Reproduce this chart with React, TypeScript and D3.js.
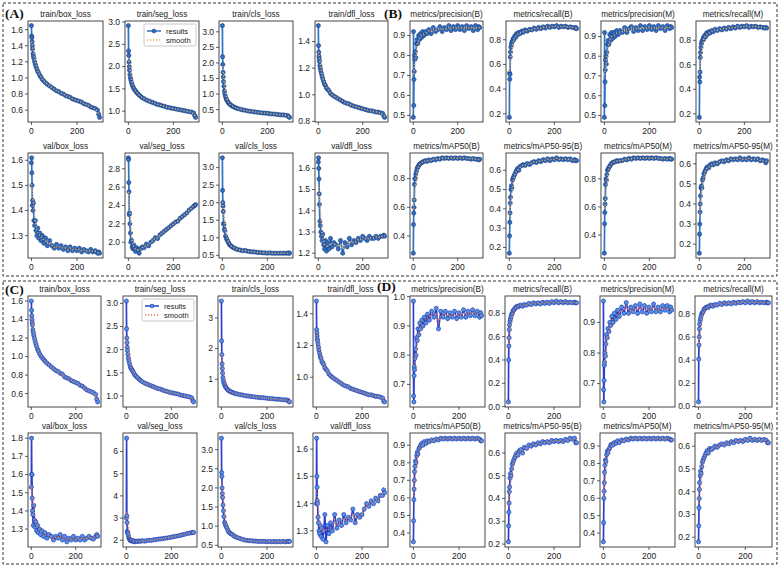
import React from 'react'
import * as d3 from 'd3'

const EPOCHS = [0, 1, 2, 3, 4, 5, 7, 9, 11, 14, 17, 20, 24, 28, 32, 37, 42, 48, 55, 62, 70, 80, 90, 100, 110, 120, 130, 140, 150, 160, 170, 180, 190, 200, 210, 220, 230, 240, 250, 260, 270, 280, 290, 295, 299]

// (A) training / validation losses
const A_TRAIN_BOX = [1.65, 1.52, 1.5, 1.45, 1.4, 1.36, 1.3, 1.27, 1.24, 1.2, 1.17, 1.14, 1.11, 1.08, 1.06, 1.03, 1.01, 0.98, 0.96, 0.94, 0.92, 0.9, 0.88, 0.86, 0.84, 0.83, 0.81, 0.8, 0.78, 0.77, 0.76, 0.74, 0.73, 0.72, 0.71, 0.7, 0.68, 0.67, 0.66, 0.64, 0.63, 0.62, 0.6, 0.55, 0.51]
const A_TRAIN_SEG = [2.92, 2.35, 2.25, 2.1, 2.0, 1.92, 1.82, 1.75, 1.7, 1.64, 1.59, 1.55, 1.51, 1.48, 1.45, 1.42, 1.39, 1.36, 1.33, 1.3, 1.28, 1.25, 1.23, 1.21, 1.19, 1.17, 1.15, 1.14, 1.12, 1.11, 1.09, 1.08, 1.07, 1.06, 1.05, 1.04, 1.03, 1.02, 1.01, 1.0, 0.99, 0.98, 0.96, 0.9, 0.86]
const A_TRAIN_CLS = [3.2, 2.2, 1.95, 1.7, 1.55, 1.4, 1.25, 1.1, 1.0, 0.92, 0.85, 0.8, 0.75, 0.71, 0.68, 0.65, 0.62, 0.6, 0.57, 0.55, 0.53, 0.51, 0.49, 0.48, 0.46, 0.45, 0.44, 0.43, 0.42, 0.41, 0.4, 0.39, 0.39, 0.38, 0.37, 0.36, 0.36, 0.35, 0.34, 0.33, 0.33, 0.32, 0.31, 0.27, 0.25]
const A_TRAIN_DFL = [1.52, 1.37, 1.32, 1.29, 1.27, 1.25, 1.22, 1.2, 1.18, 1.16, 1.14, 1.12, 1.1, 1.08, 1.07, 1.05, 1.04, 1.03, 1.01, 1.0, 0.99, 0.98, 0.97, 0.96, 0.95, 0.94, 0.935, 0.93, 0.92, 0.915, 0.91, 0.905, 0.9, 0.895, 0.89, 0.885, 0.88, 0.88, 0.875, 0.87, 0.87, 0.865, 0.86, 0.84, 0.83]
const A_VAL_BOX = [1.59, 1.61, 1.55, 1.5, 1.42, 1.44, 1.4, 1.43, 1.36, 1.34, 1.36, 1.32, 1.3, 1.33, 1.29, 1.31, 1.28, 1.3, 1.27, 1.29, 1.26, 1.28, 1.26, 1.25, 1.265, 1.25, 1.26, 1.245, 1.255, 1.24, 1.255, 1.24, 1.25, 1.24, 1.25, 1.235, 1.245, 1.24, 1.235, 1.245, 1.235, 1.24, 1.23, 1.235, 1.23]
const A_VAL_SEG = [2.92, 2.9, 2.65, 2.55, 2.3, 2.32, 2.2, 2.1, 2.0, 2.02, 1.95, 1.93, 1.97, 1.92, 1.9, 1.94, 1.92, 1.88, 1.93, 1.95, 1.94, 1.98, 1.96, 2.0, 2.02, 2.05, 2.04, 2.08, 2.1, 2.12, 2.14, 2.16, 2.18, 2.2, 2.22, 2.23, 2.26, 2.28, 2.3, 2.32, 2.35, 2.37, 2.39, 2.4, 2.41]
const A_VAL_CLS = [3.28, 2.35, 2.0, 1.9, 1.75, 1.4, 1.38, 1.25, 1.2, 1.05, 1.0, 0.95, 0.9, 0.85, 0.8, 0.78, 0.75, 0.72, 0.7, 0.68, 0.66, 0.65, 0.63, 0.64, 0.62, 0.61, 0.6, 0.6, 0.59, 0.58, 0.58, 0.57, 0.57, 0.56, 0.57, 0.56, 0.56, 0.56, 0.56, 0.56, 0.56, 0.56, 0.56, 0.57, 0.56]
const A_VAL_DFL = [1.63, 1.65, 1.6, 1.55, 1.48, 1.43, 1.35, 1.33, 1.3, 1.28, 1.26, 1.29, 1.24, 1.22, 1.26, 1.21, 1.25, 1.22, 1.27, 1.23, 1.25, 1.24, 1.22, 1.26, 1.2, 1.25, 1.23, 1.27, 1.24, 1.26, 1.25, 1.27, 1.26, 1.28, 1.27, 1.26, 1.28, 1.27, 1.27, 1.28, 1.27, 1.28, 1.28, 1.285, 1.28]

// (B) metrics
const B_PREC_B = [0.49, 0.92, 0.55, 0.68, 0.72, 0.8, 0.78, 0.82, 0.79, 0.86, 0.88, 0.86, 0.9, 0.88, 0.91, 0.89, 0.92, 0.9, 0.92, 0.91, 0.93, 0.91, 0.94, 0.92, 0.93, 0.945, 0.92, 0.94, 0.93, 0.95, 0.925, 0.945, 0.93, 0.95, 0.93, 0.945, 0.925, 0.95, 0.935, 0.945, 0.925, 0.95, 0.93, 0.945, 0.94]
const B_REC_B = [0.17, 0.53, 0.48, 0.52, 0.66, 0.7, 0.74, 0.76, 0.78, 0.79, 0.81, 0.8, 0.83, 0.82, 0.85, 0.84, 0.86, 0.85, 0.87, 0.86, 0.88, 0.87, 0.885, 0.88, 0.895, 0.885, 0.9, 0.89, 0.905, 0.895, 0.91, 0.9, 0.91, 0.905, 0.915, 0.9, 0.91, 0.905, 0.91, 0.9, 0.905, 0.9, 0.895, 0.9, 0.89]
const B_PREC_M = [0.49, 0.92, 0.55, 0.67, 0.73, 0.78, 0.8, 0.76, 0.82, 0.86, 0.88, 0.86, 0.91, 0.88, 0.92, 0.89, 0.92, 0.9, 0.93, 0.91, 0.93, 0.92, 0.945, 0.92, 0.94, 0.95, 0.925, 0.945, 0.93, 0.955, 0.93, 0.95, 0.935, 0.955, 0.935, 0.95, 0.93, 0.955, 0.94, 0.95, 0.93, 0.955, 0.94, 0.95, 0.945]
const B_REC_M = [0.17, 0.5, 0.46, 0.54, 0.66, 0.7, 0.74, 0.77, 0.79, 0.8, 0.82, 0.81, 0.84, 0.83, 0.86, 0.85, 0.87, 0.86, 0.88, 0.87, 0.89, 0.88, 0.895, 0.885, 0.9, 0.89, 0.905, 0.895, 0.91, 0.9, 0.915, 0.905, 0.915, 0.91, 0.92, 0.905, 0.915, 0.91, 0.915, 0.905, 0.91, 0.905, 0.9, 0.905, 0.9]
const B_MAP50_B = [0.28, 0.48, 0.56, 0.6, 0.65, 0.76, 0.8, 0.8, 0.83, 0.85, 0.87, 0.88, 0.89, 0.9, 0.905, 0.91, 0.915, 0.92, 0.925, 0.92, 0.93, 0.925, 0.935, 0.93, 0.94, 0.935, 0.945, 0.94, 0.945, 0.94, 0.945, 0.94, 0.945, 0.94, 0.945, 0.94, 0.945, 0.94, 0.94, 0.935, 0.94, 0.935, 0.935, 0.93, 0.935]
const B_MAP5095_B = [0.17, 0.26, 0.33, 0.38, 0.43, 0.46, 0.5, 0.52, 0.51, 0.55, 0.56, 0.57, 0.58, 0.59, 0.6, 0.61, 0.6, 0.62, 0.625, 0.63, 0.625, 0.635, 0.63, 0.64, 0.645, 0.64, 0.65, 0.645, 0.655, 0.65, 0.66, 0.65, 0.66, 0.655, 0.665, 0.655, 0.66, 0.655, 0.66, 0.655, 0.66, 0.65, 0.655, 0.65, 0.65]
const B_MAP50_M = [0.27, 0.48, 0.56, 0.62, 0.66, 0.76, 0.8, 0.79, 0.83, 0.86, 0.87, 0.88, 0.89, 0.9, 0.91, 0.915, 0.92, 0.92, 0.93, 0.925, 0.93, 0.93, 0.94, 0.935, 0.945, 0.94, 0.95, 0.945, 0.95, 0.945, 0.95, 0.945, 0.95, 0.945, 0.95, 0.945, 0.95, 0.945, 0.945, 0.94, 0.945, 0.94, 0.945, 0.94, 0.94]
const B_MAP5095_M = [0.155, 0.25, 0.3, 0.36, 0.4, 0.44, 0.48, 0.49, 0.48, 0.52, 0.53, 0.55, 0.56, 0.57, 0.58, 0.585, 0.58, 0.595, 0.6, 0.595, 0.605, 0.6, 0.61, 0.615, 0.61, 0.62, 0.615, 0.625, 0.62, 0.625, 0.62, 0.63, 0.62, 0.625, 0.62, 0.63, 0.62, 0.625, 0.62, 0.625, 0.615, 0.62, 0.615, 0.605, 0.615]

// (C) training / validation losses
const C_TRAIN_BOX = [1.6, 1.5, 1.44, 1.4, 1.37, 1.34, 1.29, 1.26, 1.23, 1.2, 1.17, 1.14, 1.11, 1.08, 1.06, 1.03, 1.01, 0.99, 0.97, 0.95, 0.93, 0.91, 0.89, 0.87, 0.85, 0.84, 0.82, 0.81, 0.78, 0.77, 0.76, 0.74, 0.73, 0.72, 0.71, 0.69, 0.68, 0.66, 0.64, 0.63, 0.62, 0.61, 0.59, 0.54, 0.51]
const C_TRAIN_SEG = [3.05, 2.45, 2.25, 2.15, 2.05, 1.98, 1.9, 1.82, 1.76, 1.7, 1.64, 1.6, 1.57, 1.54, 1.5, 1.46, 1.43, 1.4, 1.37, 1.34, 1.31, 1.28, 1.26, 1.24, 1.22, 1.2, 1.18, 1.16, 1.15, 1.13, 1.11, 1.1, 1.08, 1.07, 1.06, 1.05, 1.04, 1.02, 1.01, 1.0, 0.99, 0.98, 0.96, 0.9, 0.87]
const C_TRAIN_CLS = [3.55, 2.25, 1.8, 1.5, 1.35, 1.2, 1.05, 0.95, 0.88, 0.82, 0.77, 0.73, 0.69, 0.66, 0.63, 0.61, 0.59, 0.57, 0.55, 0.53, 0.52, 0.5, 0.49, 0.47, 0.46, 0.45, 0.44, 0.43, 0.42, 0.41, 0.4, 0.4, 0.39, 0.38, 0.37, 0.37, 0.36, 0.35, 0.35, 0.34, 0.33, 0.33, 0.32, 0.28, 0.26]
const C_TRAIN_DFL = [1.48, 1.3, 1.28, 1.26, 1.24, 1.23, 1.21, 1.19, 1.17, 1.15, 1.13, 1.12, 1.1, 1.09, 1.08, 1.06, 1.05, 1.04, 1.02, 1.01, 1.0, 0.99, 0.98, 0.97, 0.96, 0.95, 0.945, 0.94, 0.93, 0.925, 0.92, 0.915, 0.91, 0.905, 0.9, 0.895, 0.89, 0.89, 0.885, 0.88, 0.88, 0.875, 0.87, 0.85, 0.845]
const C_VAL_BOX = [1.53, 1.8, 1.6, 1.6, 1.47, 1.4, 1.38, 1.32, 1.43, 1.35, 1.31, 1.34, 1.29, 1.32, 1.28, 1.3, 1.27, 1.29, 1.26, 1.28, 1.25, 1.27, 1.26, 1.24, 1.26, 1.25, 1.27, 1.24, 1.26, 1.23, 1.25, 1.24, 1.26, 1.24, 1.25, 1.24, 1.26, 1.24, 1.25, 1.26, 1.25, 1.245, 1.26, 1.27, 1.26]
const C_VAL_SEG = [3.0, 6.6, 3.1, 2.8, 2.4, 2.35, 2.3, 2.2, 2.1, 2.05, 2.0, 1.98, 2.0, 1.95, 1.97, 1.93, 1.96, 1.94, 1.97, 1.95, 1.98, 1.96, 1.98, 2.0, 1.99, 2.02, 2.03, 2.05, 2.06, 2.07, 2.09, 2.1, 2.12, 2.14, 2.16, 2.18, 2.2, 2.22, 2.25, 2.27, 2.3, 2.32, 2.34, 2.35, 2.35]
const C_VAL_CLS = [3.3, 2.4, 2.3, 2.0, 1.85, 1.75, 1.55, 1.4, 1.25, 1.1, 1.05, 1.0, 0.95, 0.9, 0.85, 0.82, 0.8, 0.78, 0.74, 0.72, 0.7, 0.68, 0.66, 0.64, 0.63, 0.62, 0.62, 0.61, 0.61, 0.6, 0.6, 0.6, 0.6, 0.59, 0.6, 0.59, 0.6, 0.59, 0.6, 0.59, 0.6, 0.59, 0.6, 0.6, 0.6]
const C_VAL_DFL = [1.4, 1.64, 1.5, 1.46, 1.41, 1.4, 1.35, 1.33, 1.3, 1.29, 1.32, 1.28, 1.31, 1.27, 1.3, 1.36, 1.26, 1.32, 1.29, 1.33, 1.3, 1.36, 1.31, 1.34, 1.32, 1.36, 1.33, 1.35, 1.34, 1.38, 1.33, 1.36, 1.35, 1.36, 1.38, 1.4, 1.39, 1.41, 1.4, 1.42, 1.41, 1.43, 1.43, 1.45, 1.44]

// (D) metrics
const D_PREC_B = [0.985, 0.66, 0.64, 0.73, 0.76, 0.75, 0.79, 0.82, 0.8, 0.86, 0.85, 0.89, 0.87, 0.91, 0.89, 0.92, 0.9, 0.93, 0.91, 0.94, 0.92, 0.95, 0.93, 0.96, 0.89, 0.95, 0.93, 0.95, 0.925, 0.945, 0.93, 0.95, 0.925, 0.945, 0.93, 0.955, 0.93, 0.95, 0.935, 0.955, 0.935, 0.95, 0.93, 0.945, 0.935]
const D_REC_B = [0.04, 0.4, 0.52, 0.59, 0.66, 0.7, 0.73, 0.75, 0.77, 0.79, 0.8, 0.82, 0.83, 0.84, 0.85, 0.86, 0.855, 0.865, 0.87, 0.86, 0.875, 0.87, 0.885, 0.875, 0.89, 0.88, 0.89, 0.88, 0.895, 0.885, 0.895, 0.885, 0.9, 0.89, 0.905, 0.89, 0.9, 0.89, 0.9, 0.89, 0.895, 0.89, 0.895, 0.89, 0.89]
const D_PREC_M = [0.97, 0.68, 0.64, 0.71, 0.76, 0.77, 0.8, 0.79, 0.83, 0.86, 0.85, 0.88, 0.87, 0.9, 0.89, 0.92, 0.9, 0.93, 0.91, 0.94, 0.92, 0.95, 0.93, 0.965, 0.93, 0.95, 0.935, 0.955, 0.93, 0.96, 0.935, 0.955, 0.93, 0.95, 0.935, 0.96, 0.935, 0.95, 0.935, 0.955, 0.94, 0.955, 0.935, 0.95, 0.94]
const D_REC_M = [0.04, 0.41, 0.53, 0.6, 0.67, 0.71, 0.74, 0.76, 0.78, 0.8, 0.81, 0.82, 0.84, 0.845, 0.855, 0.86, 0.855, 0.87, 0.875, 0.865, 0.88, 0.875, 0.89, 0.88, 0.895, 0.885, 0.895, 0.885, 0.9, 0.89, 0.9, 0.895, 0.905, 0.895, 0.91, 0.895, 0.905, 0.895, 0.905, 0.895, 0.9, 0.895, 0.9, 0.895, 0.895]
const D_MAP50_B = [0.35, 0.47, 0.59, 0.65, 0.7, 0.75, 0.78, 0.81, 0.8, 0.84, 0.86, 0.85, 0.88, 0.89, 0.9, 0.91, 0.9, 0.92, 0.91, 0.925, 0.92, 0.93, 0.925, 0.935, 0.93, 0.94, 0.935, 0.94, 0.935, 0.94, 0.935, 0.94, 0.935, 0.94, 0.935, 0.94, 0.935, 0.94, 0.935, 0.94, 0.935, 0.94, 0.935, 0.925, 0.925]
const D_MAP5095_B = [0.21, 0.28, 0.34, 0.38, 0.43, 0.45, 0.49, 0.51, 0.5, 0.53, 0.55, 0.56, 0.57, 0.58, 0.59, 0.6, 0.59, 0.61, 0.615, 0.6, 0.625, 0.62, 0.635, 0.63, 0.64, 0.635, 0.645, 0.64, 0.65, 0.645, 0.65, 0.645, 0.655, 0.65, 0.655, 0.65, 0.655, 0.65, 0.66, 0.655, 0.665, 0.66, 0.665, 0.645, 0.645]
const D_MAP50_M = [0.35, 0.46, 0.6, 0.64, 0.69, 0.75, 0.79, 0.82, 0.81, 0.85, 0.87, 0.86, 0.88, 0.89, 0.905, 0.91, 0.905, 0.92, 0.915, 0.93, 0.92, 0.935, 0.93, 0.94, 0.935, 0.945, 0.94, 0.945, 0.94, 0.945, 0.94, 0.945, 0.94, 0.945, 0.94, 0.945, 0.94, 0.945, 0.94, 0.945, 0.94, 0.945, 0.94, 0.935, 0.935]
const D_MAP5095_M = [0.18, 0.25, 0.33, 0.37, 0.41, 0.44, 0.47, 0.49, 0.48, 0.51, 0.53, 0.54, 0.55, 0.56, 0.57, 0.58, 0.57, 0.59, 0.585, 0.59, 0.6, 0.595, 0.605, 0.61, 0.605, 0.615, 0.61, 0.62, 0.615, 0.625, 0.62, 0.625, 0.62, 0.63, 0.625, 0.635, 0.625, 0.63, 0.625, 0.63, 0.625, 0.63, 0.625, 0.615, 0.615]

// y tick labels
const T_BOX = [0.6, 0.8, 1.0, 1.2, 1.4, 1.6]
const T_SEG = [1.0, 1.5, 2.0, 2.5, 3.0]
const T_CLS = [0.5, 1.0, 1.5, 2.0, 2.5, 3.0]
const T_DFL_A = [0.8, 1.0, 1.2, 1.4]
const T_DFL_C = [1.0, 1.2, 1.4]
const T_CLS_C = [1, 2, 3]
const T_PREC_AB = [0.5, 0.6, 0.7, 0.8, 0.9]
const T_REC_AB = [0.2, 0.4, 0.6, 0.8]
const T_VBOX_A = [1.3, 1.4, 1.5, 1.6]
const T_VSEG_A = [2.0, 2.2, 2.4, 2.6, 2.8]
const T_VDFL_A = [1.2, 1.3, 1.4, 1.5, 1.6]
const T_MAP50_B = [0.4, 0.6, 0.8]
const T_MAP5095 = [0.2, 0.3, 0.4, 0.5, 0.6]
const T_PREC_D = [0.7, 0.8, 0.9, 1.0]
const T_PREC_DM = [0.7, 0.8, 0.9]
const T_REC_D = [0.0, 0.2, 0.4, 0.6, 0.8]
const T_VBOX_C = [1.2, 1.3, 1.4, 1.5, 1.6, 1.7, 1.8]
const T_VSEG_C = [2, 3, 4, 5, 6]
const T_VDFL_C = [1.3, 1.4, 1.5, 1.6]
const T_MAP50_D = [0.4, 0.5, 0.6, 0.7, 0.8, 0.9]
const X_TICKS = [0, 200]

const TOP_COLS = [[28, 103], [125, 199], [219, 293], [315, 388], [410, 483], [506, 580], [601, 675], [696, 770]]
const BOT_COLS = [[28, 101], [123, 197], [218, 293], [313, 388], [410, 485], [505, 580], [600, 675], [695, 772]]

const THEMES = {
  ab: { line: '#2a72c4', dot: '#2f6fc0', dotEdge: '#1b3c82', smooth: '#e8a868' },
  cd: { line: '#2a3fd0', dot: '#4f92e6', dotEdge: '#1d2da6', smooth: '#e07a5a' },
}

const ROWS = [
  { top: 21, bottom: 122, cols: TOP_COLS, theme: 'ab', panels: [
    ['train/box_loss', A_TRAIN_BOX, T_BOX], ['train/seg_loss', A_TRAIN_SEG, T_SEG], ['train/cls_loss', A_TRAIN_CLS, T_CLS], ['train/dfl_loss', A_TRAIN_DFL, T_DFL_A],
    ['metrics/precision(B)', B_PREC_B, T_PREC_AB], ['metrics/recall(B)', B_REC_B, T_REC_AB], ['metrics/precision(M)', B_PREC_M, T_PREC_AB], ['metrics/recall(M)', B_REC_M, T_REC_AB]] },
  { top: 153, bottom: 258, cols: TOP_COLS, theme: 'ab', panels: [
    ['val/box_loss', A_VAL_BOX, T_VBOX_A], ['val/seg_loss', A_VAL_SEG, T_VSEG_A], ['val/cls_loss', A_VAL_CLS, T_CLS], ['val/dfl_loss', A_VAL_DFL, T_VDFL_A],
    ['metrics/mAP50(B)', B_MAP50_B, T_MAP50_B], ['metrics/mAP50-95(B)', B_MAP5095_B, T_MAP5095], ['metrics/mAP50(M)', B_MAP50_M, T_MAP50_B], ['metrics/mAP50-95(M)', B_MAP5095_M, T_MAP5095]] },
  { top: 296, bottom: 407, cols: BOT_COLS, theme: 'cd', panels: [
    ['train/box_loss', C_TRAIN_BOX, T_BOX], ['train/seg_loss', C_TRAIN_SEG, T_SEG], ['train/cls_loss', C_TRAIN_CLS, T_CLS_C], ['train/dfl_loss', C_TRAIN_DFL, T_DFL_C],
    ['metrics/precision(B)', D_PREC_B, T_PREC_D], ['metrics/recall(B)', D_REC_B, T_REC_D], ['metrics/precision(M)', D_PREC_M, T_PREC_DM], ['metrics/recall(M)', D_REC_M, T_REC_D]] },
  { top: 433, bottom: 547, cols: BOT_COLS, theme: 'cd', panels: [
    ['val/box_loss', C_VAL_BOX, T_VBOX_C], ['val/seg_loss', C_VAL_SEG, T_VSEG_C], ['val/cls_loss', C_VAL_CLS, T_CLS], ['val/dfl_loss', C_VAL_DFL, T_VDFL_C],
    ['metrics/mAP50(B)', D_MAP50_B, T_MAP50_D], ['metrics/mAP50-95(B)', D_MAP5095_B, T_MAP5095], ['metrics/mAP50(M)', D_MAP50_M, T_MAP50_D], ['metrics/mAP50-95(M)', D_MAP5095_M, T_MAP5095]] },
]

const FONT = '"Liberation Sans", Arial, sans-serif'

// gaussian smoothing over epochs, like the "smooth" trace
function smooth(xs: number[], ys: number[], sigma = 6) {
  return ys.map((_, i) => {
    let sw = 0, s = 0
    xs.forEach((x, j) => {
      const w = Math.exp(-((x - xs[i]) ** 2) / (2 * sigma * sigma))
      sw += w
      s += w * ys[j]
    })
    return s / sw
  })
}

function Panel({ x0, x1, y0, y1, title, values, ticks, theme, legend }: any) {
  const c = THEMES[theme]
  const x = d3.scaleLinear().domain([-14.95, 313.95]).range([x0, x1])
  const [lo, hi] = d3.extent(values) as [number, number]
  const pad = (hi - lo) * 0.05
  const y = d3.scaleLinear().domain([lo - pad, hi + pad]).range([y1, y0])
  const line = d3.line<number>().x((_, i) => x(EPOCHS[i])).y(d => y(d))
  const sm = smooth(EPOCHS, values)
  const allInt = ticks.every((t: number) => Number.isInteger(t) && t >= 1)
  const fmt = allInt ? d3.format('d') : d3.format('.1f')
  const yt = ticks.filter((t: number) => t >= y.domain()[0] - 1e-9 && t <= y.domain()[1] + 1e-9)

  return (
    <g>
      <path d={line(values) || ''} fill="none" stroke={c.line} strokeWidth={1.7} />
      {values.map((v: number, i: number) => (
        <circle key={i} cx={x(EPOCHS[i])} cy={y(v)} r={2.1} fill={c.dot} stroke={c.dotEdge} strokeWidth={0.6} />
      ))}
      <path d={line(sm) || ''} fill="none" stroke={c.smooth} strokeWidth={1.5} strokeDasharray="1.2,1.8" />
      <rect x={x0} y={y0} width={x1 - x0} height={y1 - y0} fill="none" stroke="#333" strokeWidth={0.9} />
      {yt.map((t: number) => (
        <g key={t} transform={`translate(${x0},${y(t)})`}>
          <line x2={-3} stroke="#333" strokeWidth={0.8} />
          <text x={-5} dy="0.34em" textAnchor="end" fontSize={8.5} fontFamily={FONT} fill="#222">{fmt(t)}</text>
        </g>
      ))}
      {X_TICKS.map(t => (
        <g key={t} transform={`translate(${x(t)},${y1})`}>
          <line y2={3} stroke="#333" strokeWidth={0.8} />
          <text y={12} textAnchor="middle" fontSize={8.5} fontFamily={FONT} fill="#222">{t}</text>
        </g>
      ))}
      <text x={(x0 + x1) / 2} y={y0 - 4} textAnchor="middle" fontSize={8.2} fontFamily={FONT} fill="#1a1a1a">{title}</text>
      {legend && (
        <g transform={`translate(${x1 - 55},${y0 + 3})`}>
          <rect width={52} height={22} fill="#fff" stroke="#bbb" strokeWidth={0.8} rx={1.5} />
          <line x1={3} x2={17} y1={7} y2={7} stroke={c.line} strokeWidth={1.5} />
          <circle cx={10} cy={7} r={1.9} fill={c.dot} stroke={c.dotEdge} strokeWidth={0.6} />
          <text x={22} y={9.5} fontSize={7.5} fontFamily={FONT} fill="#222">results</text>
          <line x1={3} x2={17} y1={16} y2={16} stroke={c.smooth} strokeWidth={1.5} strokeDasharray="1.2,1.8" />
          <text x={22} y={18.5} fontSize={7.5} fontFamily={FONT} fill="#222">smooth</text>
        </g>
      )}
    </g>
  )
}

export default function App() {
  return (
    <svg width={780} height={567} style={{ display: 'block', position: 'absolute', left: 0, top: 0, background: '#fff' }}>
      <rect x={3} y={3} width={774} height={273} fill="none" stroke="#333" strokeWidth={1} strokeDasharray="3,2" />
      <rect x={3} y={281} width={774} height={283} fill="none" stroke="#333" strokeWidth={1} strokeDasharray="3,2" />
      {ROWS.map((row, ri) =>
        row.panels.map((p: any, pi) => (
          <Panel key={`${ri}-${pi}`} x0={row.cols[pi][0]} x1={row.cols[pi][1]} y0={row.top} y1={row.bottom}
            title={p[0]} values={p[1]} ticks={p[2]} theme={row.theme} legend={(ri === 0 || ri === 2) && pi === 1} />
        ))
      )}
      {[['(A)', 5, 18], ['(B)', 384, 18], ['(C)', 5, 294], ['(D)', 377, 291]].map(([s, lx, ly]) => (
        <text key={s as string} x={lx as number} y={ly as number} fontSize={13.5} fontWeight="bold" fontFamily='"Liberation Serif", "Times New Roman", serif' fill="#111">{s}</text>
      ))}
    </svg>
  )
}
